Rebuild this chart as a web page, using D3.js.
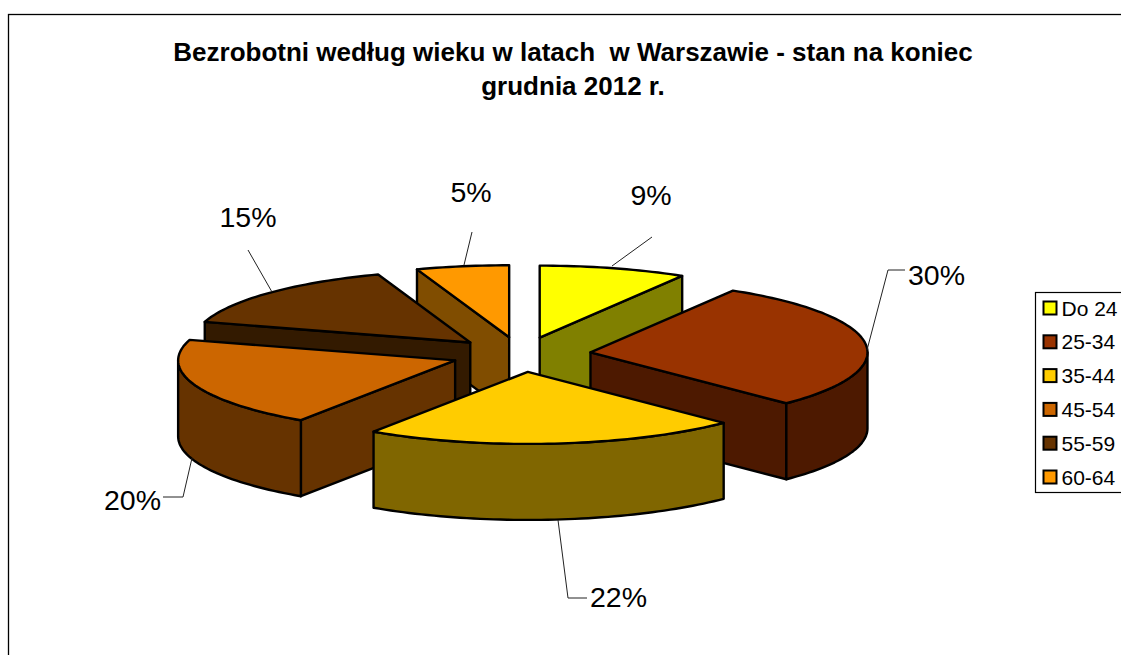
<!DOCTYPE html>
<html><head><meta charset="utf-8">
<script src="https://cdn.jsdelivr.net/npm/d3@7/dist/d3.min.js"></script>
<style>html,body{margin:0;padding:0;background:#fff;overflow:hidden}svg{display:block}text{font-family:"Liberation Sans",Arial,sans-serif;fill:#000}</style>
</head><body><svg id="c" width="1121" height="655"></svg>
<script>
const titleLines = ["Bezrobotni według wieku w latach  w Warszawie - stan na koniec", "grudnia 2012 r."];
const categories = ["Do 24", "25-34", "35-44", "45-54", "55-59", "60-64"];
const values = [8.6, 28.9, 21.9, 20.2, 15, 5.4];
const pctLabels = ["9%", "30%", "22%", "20%", "15%", "5%"];
const topColors = ["#FFFF00", "#993300", "#FFCC00", "#CC6600", "#663300", "#FF9900"];
const sideColors = ["#808000", "#4D1900", "#806600", "#663300", "#331A00", "#804D00"];
const drawOrder = [5, 0, 4, 1, 3, 2];

const svg = d3.select("#c");
const cx = 521, cy = 354.5, rx = 277, ry = 72, depth = 76, explode = 70, explodeY = 17.5;

// chart frame
svg.append("rect").attr("x", 8.5).attr("y", 14.5).attr("width", 1300).attr("height", 900)
  .attr("fill", "#fff").attr("stroke", "#000").attr("stroke-width", 1.3);

// title
svg.append("g").selectAll("text").data(titleLines).join("text")
  .attr("x", 573).attr("y", (d, i) => 61 + i * 34)
  .attr("text-anchor", "middle").attr("font-size", 26).attr("font-weight", "bold")
  .style("white-space", "pre").text(d => d);

// pie geometry via d3.pie, projected to a tilted ellipse
const pie = d3.pie().sort(null).value(d => d)(values);
const sx = d3.scaleLinear().domain([-1, 1]).range([-rx, rx]);
const sy = d3.scaleLinear().domain([-1, 1]).range([-ry, ry]);
const dirX = a => Math.sin(a), dirY = a => -Math.cos(a);
const line = d3.line().curve(d3.curveLinear);

function arcPts(o, a0, a1, dz) {
  const n = Math.max(2, Math.ceil(Math.abs(a1 - a0) * 40));
  return d3.range(n + 1).map(i => {
    const a = a0 + (a1 - a0) * i / n;
    return [o[0] + sx(dirX(a)), o[1] + sy(dirY(a)) + dz];
  });
}
function apex(d) {
  const m = (d.startAngle + d.endAngle) / 2;
  return [cx + explode * dirX(m), cy + explodeY * dirY(m)];
}
const sliceG = svg.append("g").attr("stroke", "#000").attr("stroke-width", 2.4).attr("stroke-linejoin", "round");

drawOrder.forEach(i => {
  const d = pie[i], o = apex(d), a0 = d.startAngle, a1 = d.endAngle;
  const g = sliceG.append("g");
  const side = sideColors[i];
  const p0 = [o[0] + sx(dirX(a0)), o[1] + sy(dirY(a0))];
  const p1 = [o[0] + sx(dirX(a1)), o[1] + sy(dirY(a1))];
  // radial faces
  if (Math.sin(a0) < 0) g.append("path").attr("fill", side)
    .attr("d", line([o, p0, [p0[0], p0[1] + depth], [o[0], o[1] + depth]]) + "Z");
  if (Math.sin(a1) > 0) g.append("path").attr("fill", side)
    .attr("d", line([o, p1, [p1[0], p1[1] + depth], [o[0], o[1] + depth]]) + "Z");
  // outer wall: only the front half of the rim is visible
  const w0 = Math.max(a0, Math.PI / 2), w1 = Math.min(a1, 3 * Math.PI / 2);
  if (w1 > w0) {
    const top = arcPts(o, w0, w1, 0), bot = arcPts(o, w1, w0, depth);
    g.append("path").attr("fill", side).attr("d", line(top.concat(bot)) + "Z");
  }
  // top face
  g.append("path").attr("fill", topColors[i])
    .attr("d", line([o].concat(arcPts(o, a0, a1, 0))) + "Z");
});

// data labels with leader lines
const labelLayout = [
  {leader: [[612, 266], [652, 237]], x: 651, y: 205, anchor: "middle"},
  {leader: [[867, 350], [888, 270], [905, 270]], x: 908, y: 285, anchor: "start"},
  {leader: [[558, 520], [568, 598], [587, 598]], x: 590, y: 607, anchor: "start"},
  {leader: [[192, 458], [183, 497], [163, 497]], x: 161, y: 510, anchor: "end"},
  {leader: [[272, 292], [248, 250]], x: 248, y: 227, anchor: "middle"},
  {leader: [[464, 265], [472, 232]], x: 471, y: 202, anchor: "middle"}
];
const lg = svg.append("g");
pctLabels.forEach((t, i) => {
  const L = labelLayout[i];
  lg.append("path").attr("d", line(L.leader)).attr("fill", "none").attr("stroke", "#222").attr("stroke-width", 1);
  lg.append("text").attr("x", L.x).attr("y", L.y).attr("text-anchor", L.anchor).attr("font-size", 28.5).text(t);
});

// legend
const legY = d3.scalePoint().domain(categories).range([308, 477]);
svg.append("rect").attr("x", 1035.5).attr("y", 292.5).attr("width", 120).attr("height", 200)
  .attr("fill", "#fff").attr("stroke", "#000").attr("stroke-width", 1.2);
const leg = svg.append("g").selectAll("g").data(categories).join("g")
  .attr("transform", d => `translate(0,${legY(d)})`);
leg.append("rect").attr("x", 1043.5).attr("y", -6.5).attr("width", 13).attr("height", 13)
  .attr("fill", (d, i) => topColors[i]).attr("stroke", "#000").attr("stroke-width", 2);
leg.append("text").attr("x", 1061.5).attr("y", 7.5).attr("font-size", 21).text(d => d);
</script></body></html>
